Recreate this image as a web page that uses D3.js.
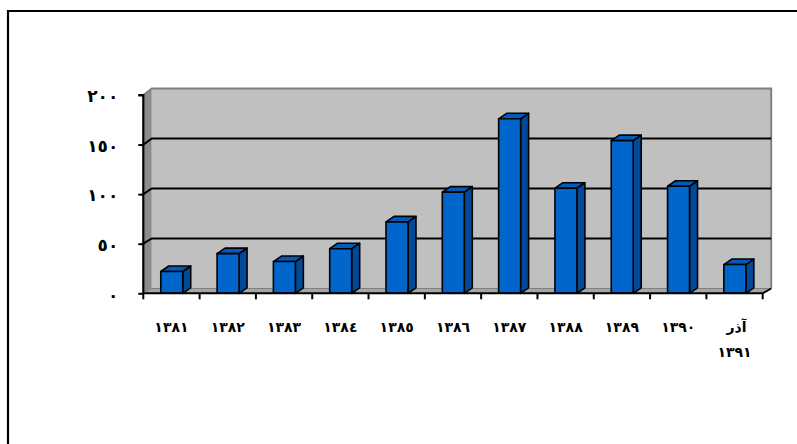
<!DOCTYPE html>
<html><head><meta charset="utf-8">
<script src="https://cdn.jsdelivr.net/npm/d3@7"></script>
<style>html,body{margin:0;padding:0;background:#fff;}svg{display:block;}</style>
</head><body>
<svg id="c" width="797" height="444"></svg>
<script>
const categories = ["١٣٨١","١٣٨٢","١٣٨٣","١٣٨٤","١٣٨٥","١٣٨٦","١٣٨٧","١٣٨٨","١٣٨٩","١٣٩٠","آذر ١٣٩١"];
const values = [22, 40, 32, 45, 72, 102, 176, 106, 154, 108, 29];
const yTicks = [0, 50, 100, 150, 200];
const yTickLabels = ["٠","٥٠","١٠٠","١٥٠","٢٠٠"];

const svg = d3.select("#c");
const font = "'DejaVu Sans', sans-serif";

// outer frame
svg.append("path").attr("d","M8,444 L8,11 L797,11").attr("fill","none").attr("stroke","#000").attr("stroke-width",2.2);

const x = d3.scaleBand().domain(categories).range([143.3, 762.7]).paddingInner(0).paddingOuter(0);
const y = d3.scaleLinear().domain([0,200]).range([293.3, 95]);
const yb = d3.scaleLinear().domain([0,200]).range([288.5, 88.5]);
const wdx = 8.5;
const x0 = 143.3, x1 = 762.7;

// left wall
svg.append("polygon").attr("points",[[x0,y(200)],[x0+wdx,yb(200)],[x0+wdx,yb(0)],[x0,y(0)]].join(" "))
  .attr("fill","#8c8c8c");
// back wall
svg.append("rect").attr("x",x0+wdx).attr("y",yb(200)).attr("width",x1-x0).attr("height",yb(0)-yb(200))
  .attr("fill","#c0c0c0");
// floor
svg.append("polygon").attr("points",[[x0,y(0)],[x0+wdx,yb(0)],[x1+wdx,yb(0)],[x1,y(0)]].join(" "))
  .attr("fill","#a6a6a6").attr("stroke","#808080").attr("stroke-width",1);
// wall outline top/right
svg.append("path").attr("d",`M${x0},${y(200)} L${x0+wdx},${yb(200)} L${x1+wdx},${yb(200)} L${x1+wdx},${yb(0)}`)
  .attr("fill","none").attr("stroke","#808080").attr("stroke-width",2);

// gridlines
yTicks.filter(v=>v>0 && v<200).forEach(v=>{
  svg.append("path").attr("d",`M${x0},${y(v)} L${x0+wdx},${yb(v)} L${x1+wdx},${yb(v)}`)
    .attr("fill","none").attr("stroke","#000").attr("stroke-width",2);
});

// bars
const bw = x.bandwidth()*0.39;
const bdx = 8, bdy = 5.5;
const g = svg.append("g").attr("stroke","#000").attr("stroke-width",1.6).attr("stroke-linejoin","round");
categories.forEach((c,i)=>{
  const v = values[i];
  const bx = x(c) + (x.bandwidth()-bw)/2 + 0.3;
  const top = y(v), bot = y(0);
  g.append("polygon").attr("points",[[bx+bw,top],[bx+bw+bdx,top-bdy],[bx+bw+bdx,bot-bdy],[bx+bw,bot]].join(" ")).attr("fill","#004a99");
  g.append("polygon").attr("points",[[bx,top],[bx+bdx,top-bdy],[bx+bw+bdx,top-bdy],[bx+bw,top]].join(" ")).attr("fill","#005cb8");
  g.append("rect").attr("x",bx).attr("y",top).attr("width",bw).attr("height",bot-top).attr("fill","#0066cc");
});

// axes
const yAxis = d3.axisLeft(y).tickValues(yTicks).tickSize(5).tickFormat((d,i)=>yTickLabels[i]);
const ya = svg.append("g").attr("transform",`translate(${x0},0)`).call(yAxis);
ya.select(".domain").attr("stroke","#000").attr("stroke-width",2.2).attr("d",`M-5,${y(200)}H0V${y(0)}`);
ya.selectAll(".tick line").attr("stroke","#000").attr("stroke-width",2);
ya.selectAll(".tick text").attr("x",-25).attr("dy","0.4em").attr("font-family",font).attr("font-size",17).attr("font-weight","bold").attr("fill","#000");

const xa = svg.append("g").attr("transform",`translate(0,${y(0)})`);
xa.append("path").attr("d",`M${x0},0H${x1}L${x1+wdx},${yb(0)-y(0)}`).attr("fill","none").attr("stroke","#000").attr("stroke-width",2);
const bounds = categories.map(c=>x(c)).concat([x1]);
bounds.forEach(b=>{
  xa.append("line").attr("x1",b).attr("x2",b).attr("y1",0).attr("y2",6).attr("stroke","#000").attr("stroke-width",2);
});
categories.forEach(c=>{
  const parts = c.split(" ");
  const t = xa.append("text").attr("x",x(c)+x.bandwidth()/2).attr("y",39)
    .attr("text-anchor","middle").attr("font-family",font).attr("font-size",14).attr("font-weight","bold").attr("fill","#000");
  if(parts.length===1){ t.text(c); }
  else {
    t.append("tspan").attr("x",x(c)+x.bandwidth()/2+2).attr("dy",0).text(parts[0]);
    t.append("tspan").attr("x",x(c)+x.bandwidth()/2).attr("dy",25).text(parts[1]);
  }
});
</script>
</body></html>
